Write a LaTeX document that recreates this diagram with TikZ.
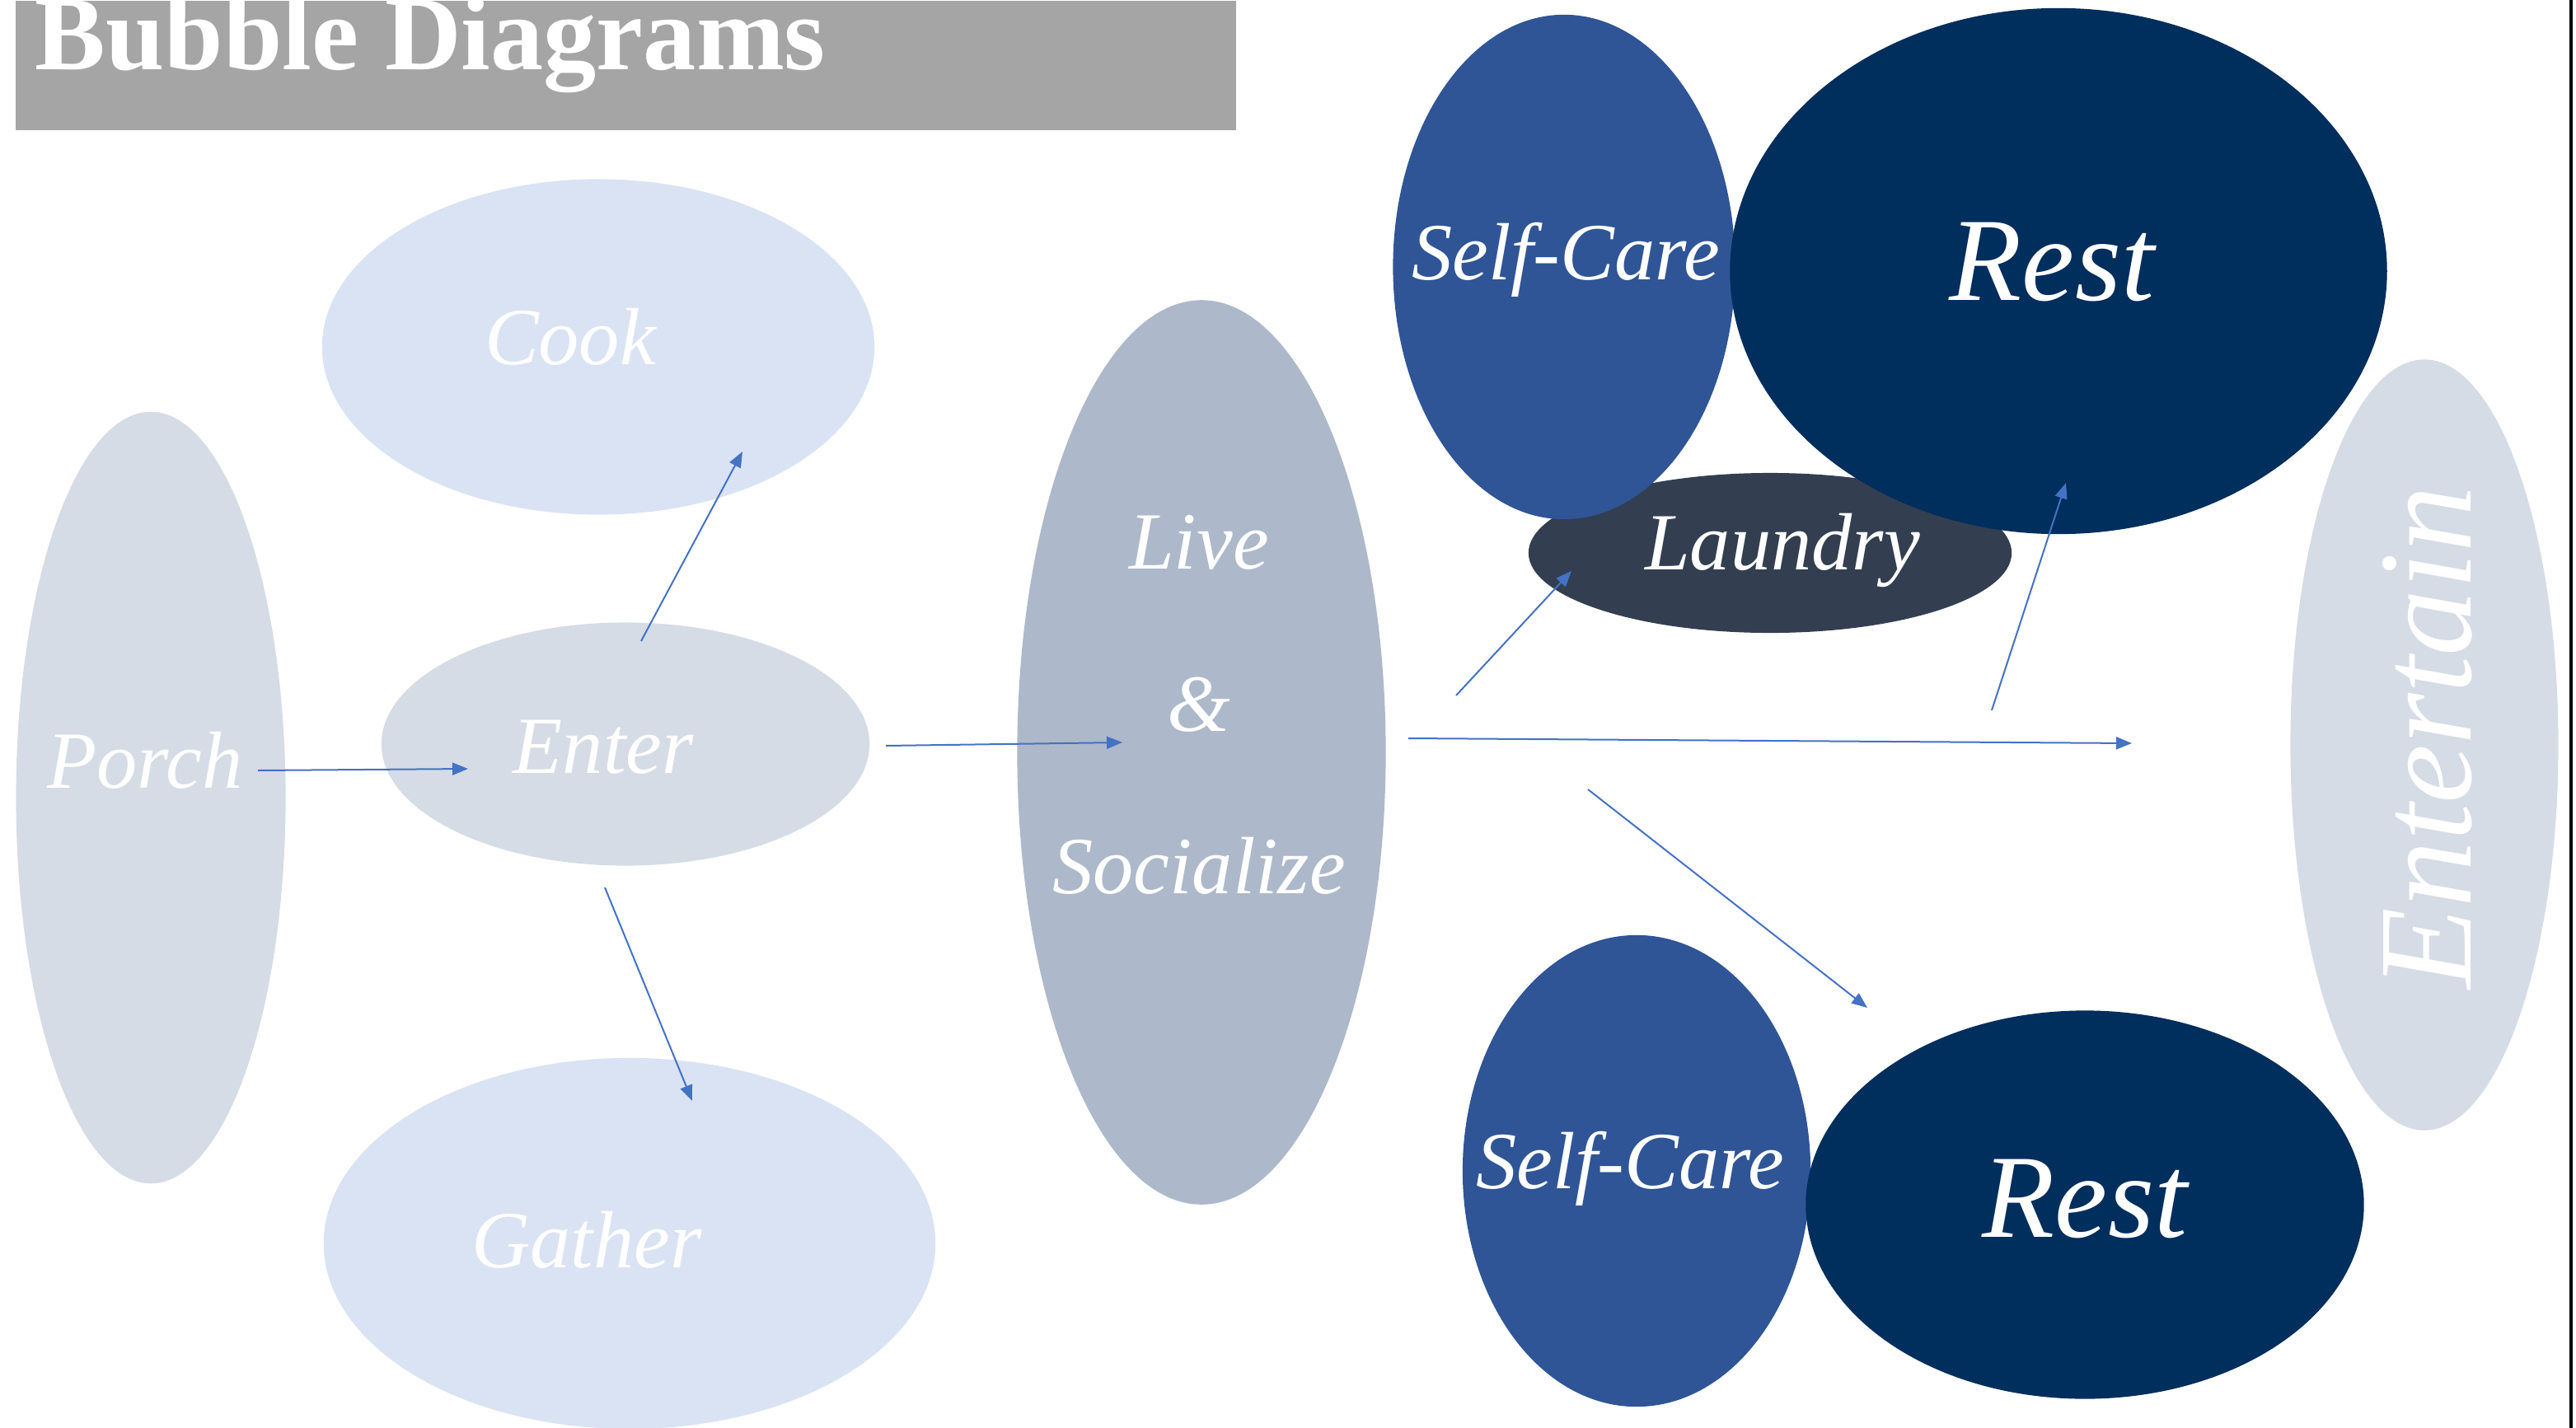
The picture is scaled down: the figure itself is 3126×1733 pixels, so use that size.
\documentclass[tikz,border=0pt]{standalone}
\usepackage{fontspec}
\setmainfont{Liberation Serif}
\usetikzlibrary{shapes.geometric,arrows.meta}

\definecolor{barGray}{HTML}{A5A5A5}
\definecolor{paleSlate}{HTML}{D6DCE5}
\definecolor{paleBlue}{HTML}{DAE3F3}
\definecolor{midSlate}{HTML}{ADB9CA}
\definecolor{careBlue}{HTML}{2F5597}
\definecolor{restNavy}{HTML}{002E5D}
\definecolor{laundrySlate}{HTML}{333F50}
\definecolor{flowBlue}{HTML}{4472C4}

\tikzset{
  bubble/.style={ellipse, inner sep=0pt, fill=#1},
  word/.style={text=white, font=\itshape\fontsize{28}{56}\selectfont, align=center, inner sep=0pt},
  bigword/.style={word, font=\itshape\fontsize{41}{44}\selectfont},
  flow/.style={draw=flowBlue, line width=0.02cm, -{Triangle[length=0.19cm, width=0.15cm]}}
}

\begin{document}
\begin{tikzpicture}[x=0.01cm, y=-0.01cm]
\useasboundingbox (0,0) rectangle (3126,1733);

% heading
\node[fill=barGray, anchor=north west, inner sep=0pt, minimum width=14.8cm, minimum height=1.57cm] (titlebar) at (18,0) {};
\node[anchor=base west, inner sep=0pt, text=white, font=\bfseries\fontsize{36.5}{37}\selectfont] (title) at (42,84) {Bubble Diagrams};

% left group
\node[bubble=paleSlate, minimum width=3.27cm, minimum height=9.36cm] (porch) at (183,968) {};
\node[word] (porch-t) at (176,923) {Porch};
\node[bubble=paleBlue, minimum width=6.70cm, minimum height=4.07cm] (cook) at (726,421) {};
\node[word] (cook-t) at (692,409) {Cook};
\node[bubble=paleSlate, minimum width=5.92cm, minimum height=2.95cm] (enter) at (759,903) {};
\node[word] (enter-t) at (732,907) {Enter};
\node[bubble=paleBlue, minimum width=7.42cm, minimum height=4.50cm] (gather) at (764,1509) {};
\node[word] (gather-t) at (712,1505) {Gather};

% middle
\node[bubble=midSlate, minimum width=4.47cm, minimum height=10.97cm] (live) at (1458,913) {};
\node[word] (live-t) at (1455,855) {Live\\\&\\Socialize};

% right group
\node[bubble=laundrySlate, minimum width=5.86cm, minimum height=1.94cm] (laundry) at (2148,671) {};
\node[word] (laundry-t) at (2163,668) {Laundry};
\node[bubble=careBlue, minimum width=4.15cm, minimum height=6.12cm] (care1) at (1898,324) {};
\node[word] (care1-t) at (1900,315) {Self-Care};
\node[bubble=paleSlate, minimum width=3.25cm, minimum height=9.35cm] (entertain) at (2942,904) {};
\node[bigword, font=\itshape\fontsize{46}{48}\selectfont, rotate=90] (entertain-t) at (2946,895) {Entertain};
\node[bubble=restNavy, minimum width=7.97cm, minimum height=6.38cm] (rest1) at (2498,329) {};
\node[bigword] (rest1-t) at (2490,318) {Rest};
\node[bubble=careBlue, minimum width=4.22cm, minimum height=5.72cm] (care2) at (1986,1421) {};
\node[word] (care2-t) at (1978,1418) {Self-Care};
\node[bubble=restNavy, minimum width=6.77cm, minimum height=4.71cm] (rest2) at (2530,1462) {};
\node[bigword] (rest2-t) at (2530,1455) {Rest};

% arrow ends
\coordinate (porch-out) at (313,935);
\coordinate (enter-in) at (568,933);
\coordinate (enter-up) at (778,778);
\coordinate (cook-in) at (901,548);
\coordinate (enter-down) at (734,1077);
\coordinate (gather-in) at (840,1336);
\coordinate (enter-out) at (1075,905);
\coordinate (live-in) at (1362,901);
\coordinate (live-up) at (1767,844);
\coordinate (laundry-in) at (1907,693);
\coordinate (live-out) at (1709,896);
\coordinate (entertain-in) at (2587,902);
\coordinate (rest-up) at (2417,862);
\coordinate (rest1-in) at (2507,586);
\coordinate (live-down) at (1927,958);
\coordinate (rest2-in) at (2266,1223);

\draw[flow] (porch-out) -- (enter-in);
\draw[flow] (enter-up) -- (cook-in);
\draw[flow] (enter-down) -- (gather-in);
\draw[flow] (enter-out) -- (live-in);
\draw[flow] (live-up) -- (laundry-in);
\draw[flow] (live-out) -- (entertain-in);
\draw[flow] (rest-up) -- (rest1-in);
\draw[flow] (live-down) -- (rest2-in);

% page edge
\draw[line width=0.04cm] (3120,0) -- (3120,1733);
\end{tikzpicture}
\end{document}
